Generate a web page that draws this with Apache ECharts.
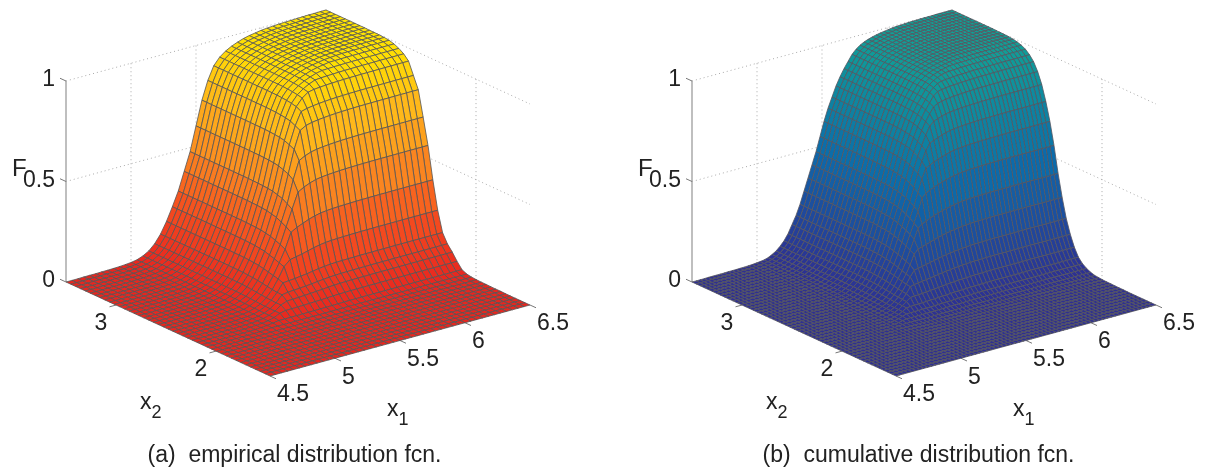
<!DOCTYPE html>
<html>
<head>
<meta charset="utf-8">
<style>html,body{margin:0;padding:0;background:#fff}#chart{width:1206px;height:470px}</style>
<script src="https://cdn.jsdelivr.net/npm/echarts@6/dist/echarts.min.js"></script>
</head>
<body>
<div id="chart"></div>
<script>
// tick labels
var x1Ticks = [4.5, 5, 5.5, 6, 6.5];
var x2Ticks = [2, 3];
var fTicks = [0, 0.5, 1];
var x1Range = [4.5, 6.5];
var x2Range = [1.46, 3.5];

// height of the surface along its back edges, front to back.
// inside, the crease in the mesh follows the lower of the two edges, so a node mixes min and product
var empiricalX1 = [0,0,0,.001,.001,.001,.002,.002,.003,.004,.006,.009,.014,.025,.042,.07,.11,.165,.23,.3,.39,.48,.6,.72,.81,.875,.91,.932,.948,.96,.97,.977,.982,.987,.99,.992,.994,.995,.996,.997,.998,.999,.999,1,1];
var empiricalX2 = [0,0,0,0,0,0,.001,.001,.001,.002,.002,.003,.005,.009,.02,.05,.085,.115,.16,.26,.4,.56,.69,.815,.875,.935,.96,.976,.987,.994,.997,.998,.999,.999,1,1,1,1,1,1,1,1,1];
var cumulativeX1 = [0,0,0,0,.001,.001,.001,.001,.001,.002,.002,.002,.003,.003,.004,.005,.007,.009,.012,.018,.028,.04,.058,.08,.11,.15,.19,.24,.3,.36,.42,.48,.55,.62,.68,.73,.78,.82,.855,.885,.915,.935,.95,.96,.968,.974,.979,.983,.986,.989,.992,.994,.995,.996,.997,.998,.998,.999,.999,.999,.999,1,1,1,1,1];
var cumulativeX2 = [0,0,0,0,0,0,0,0,.001,.001,.001,.002,.002,.003,.005,.007,.013,.023,.037,.06,.1,.155,.225,.32,.43,.56,.67,.76,.835,.89,.93,.955,.973,.984,.99,.995,.997,.998,.999,.999,1,1,1,1,1,1,1,1,1,1,1];

var empiricalColors = ['#e8261f', '#f5501f', '#fa8a20', '#ffb81a', '#ffe400'];
var cumulativeColors = ['#2e2f92', '#0b6cab', '#10a096'];

// orthographic view, pixels per full axis
var viewX1 = [260, 71], viewX2 = [204, 94], viewF = 201;
var plotW = 464, plotH = 366;

function project(x1, x2, f) {
    var t = (x1 - x1Range[0]) / (x1Range[1] - x1Range[0]);
    var w = (x2 - x2Range[0]) / (x2Range[1] - x2Range[0]);
    return [t * viewX1[0] - w * viewX2[0] + viewX2[0], t * viewX1[1] + w * viewX2[1] + f * viewF];
}

function surfaceSeries(idx, edgeX1, edgeX2, mix, stops, lineColor) {
    var cells = [];
    var n1 = edgeX1.length - 1, n2 = edgeX2.length - 1;
    for (var i = n1 - 1; i >= 0; i--) {
        for (var j = n2 - 1; j >= 0; j--) {
            cells.push([i, j]);
        }
    }
    function height(i, j) {
        return mix * Math.min(edgeX1[i], edgeX2[j]) + (1 - mix) * edgeX1[i] * edgeX2[j];
    }
    function node(api, i, j) {
        var x1 = x1Range[0] + (x1Range[1] - x1Range[0]) * i / n1;
        var x2 = x2Range[0] + (x2Range[1] - x2Range[0]) * j / n2;
        return api.coord(project(x1, x2, height(i, j)));
    }
    return {
        type: 'custom', xAxisIndex: idx, yAxisIndex: idx, silent: true, animation: false, progressive: 0, z: 5, clip: false,
        data: cells,
        renderItem: function (params, api) {
            var i = api.value(0), j = api.value(1);
            var h = (height(i, j) + height(i + 1, j) + height(i, j + 1) + height(i + 1, j + 1)) / 4;
            return {
                type: 'polygon',
                shape: { points: [node(api, i, j), node(api, i + 1, j), node(api, i + 1, j + 1), node(api, i, j + 1)] },
                style: { fill: echarts.color.lerp(h, stops), stroke: lineColor, lineWidth: 0.8 }
            };
        }
    };
}

function segmentSeries(idx, segments, style, z) {
    return {
        type: 'custom', xAxisIndex: idx, yAxisIndex: idx, silent: true, animation: false, z: z, clip: false,
        data: segments.map(function (s, k) { return [k]; }),
        renderItem: function (params, api) {
            var s = segments[api.value(0)];
            var a = api.coord(project(s[0], s[1], s[2])), b = api.coord(project(s[3], s[4], s[5]));
            return { type: 'line', shape: { x1: a[0], y1: a[1], x2: b[0], y2: b[1] }, style: style };
        }
    };
}

function labelSeries(idx) {
    var items = [];
    x1Ticks.forEach(function (v) { items.push({ text: String(v), at: [v, x2Range[0], 0], dx: 7, dy: 19, align: 'left' }); });
    x2Ticks.forEach(function (v) { items.push({ text: String(v), at: [x1Range[0], v, 0], dx: -15, dy: 19, align: 'center' }); });
    fTicks.forEach(function (v) { items.push({ text: String(v), at: [x1Range[0], x2Range[1], v], dx: -11, dy: -1, align: 'right' }); });
    return {
        type: 'custom', xAxisIndex: idx, yAxisIndex: idx, silent: true, animation: false, z: 6, clip: false,
        data: items.map(function (s, k) { return [k]; }),
        renderItem: function (params, api) {
            var it = items[api.value(0)];
            var p = api.coord(project(it.at[0], it.at[1], it.at[2]));
            return {
                type: 'text',
                style: { text: it.text, x: p[0] + it.dx, y: p[1] + it.dy, textAlign: it.align, textVerticalAlign: 'middle', font: '23px "Liberation Sans"', fill: '#222' }
            };
        }
    };
}

function wallSegments() {
    var lo1 = x1Range[0], hi1 = x1Range[1], lo2 = x2Range[0], hi2 = x2Range[1];
    var out = [];
    fTicks.slice(1).forEach(function (f) {
        out.push([lo1, hi2, f, hi1, hi2, f]);
        out.push([hi1, hi2, f, hi1, lo2, f]);
    });
    x1Ticks.slice(1, -1).forEach(function (v) { out.push([v, hi2, 0, v, hi2, 1]); });
    x2Ticks.forEach(function (v) { out.push([hi1, v, 0, hi1, v, 1]); });
    return out;
}

function tickSegments() {
    var lo1 = x1Range[0], lo2 = x2Range[0], hi2 = x2Range[1];
    var out = [];
    x1Ticks.forEach(function (v) { out.push([v, lo2, 0, v, lo2 - 0.06, 0]); });
    x2Ticks.forEach(function (v) { out.push([lo1, v, 0, lo1 - 0.05, v, 0]); });
    fTicks.forEach(function (v) { out.push([lo1, hi2, v, lo1, hi2 + 0.06, v]); });
    return out;
}

var panelLeft = [66, 692];
var captions = ['(a)  empirical distribution fcn.', '(b)  cumulative distribution fcn.'];
var captionCenter = [294.5, 918.5];
var axisName = {
    fontFamily: 'Liberation Sans', fontSize: 23, fontWeight: 'normal', color: '#222',
    rich: { s: { fontFamily: 'Liberation Sans', fontSize: 18, fontWeight: 'normal', color: '#222', padding: [20, 0, 0, 0] } }
};

var grids = [], xAxes = [], yAxes = [], series = [], titles = [];
panelLeft.forEach(function (left, idx) {
    grids.push({ left: left, top: 10, width: plotW, height: plotH });
    xAxes.push({ type: 'value', gridIndex: idx, min: 0, max: plotW, show: false });
    yAxes.push({ type: 'value', gridIndex: idx, min: 0, max: plotH, show: false });
    series.push(segmentSeries(idx, wallSegments(), { stroke: '#aaa', lineWidth: 1, lineDash: [1, 3] }, 1));
    series.push(segmentSeries(idx, [[x1Range[0], x2Range[1], 0, x1Range[0], x2Range[1], 1]], { stroke: '#aaa', lineWidth: 1.5 }, 2));
    series.push(segmentSeries(idx, tickSegments(), { stroke: '#777', lineWidth: 1 }, 2));
    series.push(labelSeries(idx));
    series.push(idx === 0 ? surfaceSeries(0, empiricalX1, empiricalX2, 0.75, empiricalColors, '#555')
                          : surfaceSeries(1, cumulativeX1, cumulativeX2, 0.7, cumulativeColors, '#565560'));
    titles.push({ text: captions[idx], left: captionCenter[idx], top: 444, padding: 0, textAlign: 'center', textStyle: { fontFamily: 'Liberation Sans', fontSize: 23, fontWeight: 'normal', color: '#222' } });
    titles.push({ text: 'F', left: left - 54, top: 157, padding: 0, textStyle: { fontFamily: 'Liberation Sans', fontSize: 24, fontWeight: 'normal', color: '#222' } });
    titles.push({ text: 'x{s|2}', left: left + 74, top: 384, padding: 0, textStyle: axisName });
    titles.push({ text: 'x{s|1}', left: left + 321, top: 391, padding: 0, textStyle: axisName });
});

var chart = echarts.init(document.getElementById('chart'));
chart.setOption({
    animation: false,
    title: titles,
    grid: grids,
    xAxis: xAxes,
    yAxis: yAxes,
    series: series
});
</script>
</body>
</html>
